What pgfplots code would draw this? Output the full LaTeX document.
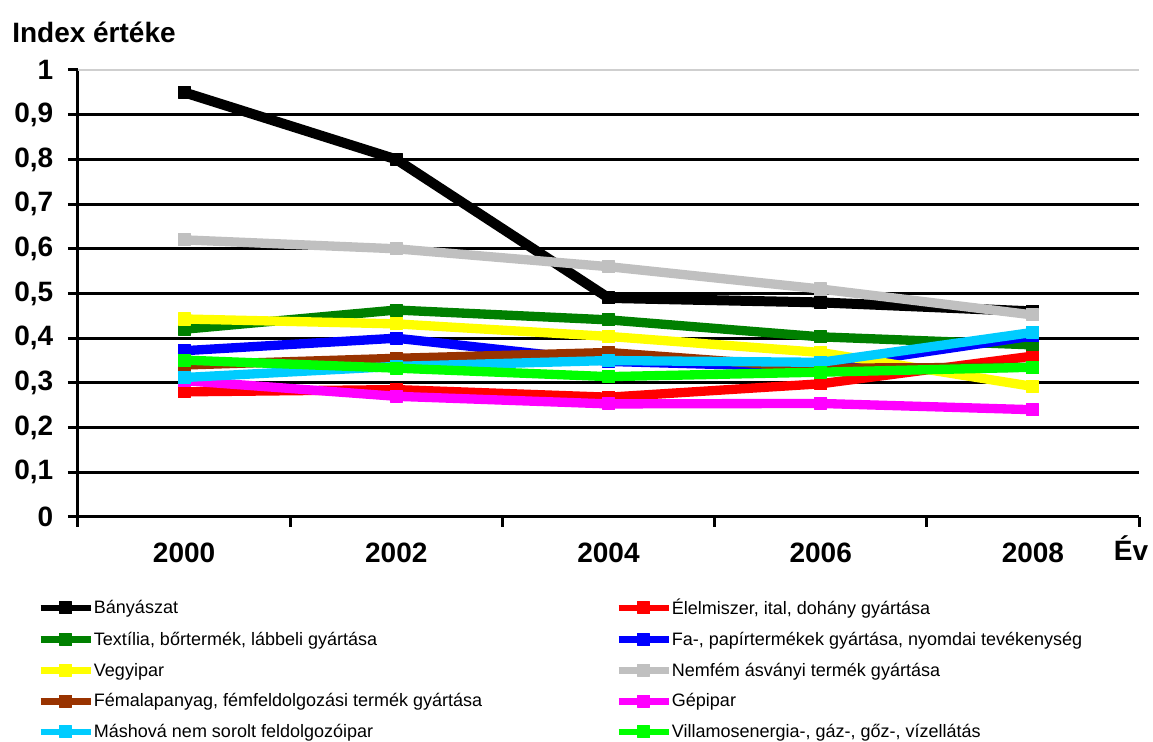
\documentclass[border=0pt]{standalone}
\usepackage{pgfplots}
\pgfplotsset{compat=1.18}
\usepackage{fontspec}
\setmainfont{Liberation Sans}
\definecolor{cgreen}{HTML}{008000}
\definecolor{cblue}{HTML}{0000FF}
\definecolor{cyellow}{HTML}{FFFF00}
\definecolor{cgray}{HTML}{C0C0C0}
\definecolor{cbrown}{HTML}{993300}
\definecolor{cmagenta}{HTML}{FF00FF}
\definecolor{ccyan}{HTML}{00CCFF}
\definecolor{clime}{HTML}{00FF00}
\definecolor{cred}{HTML}{FF0000}
\definecolor{topgrid}{HTML}{CFCFCF}
\newcommand{\lw}[1]{\makebox[391pt][l]{#1}}
\pgfplotsset{mylegimg/.style={legend image code/.code={\draw[##1, line width=5pt, mark repeat=2, mark phase=2] plot coordinates {(0pt,0pt) (18.75pt,0pt) (37.5pt,0pt)};}}}
\begin{document}
\begin{tikzpicture}
\useasboundingbox (0pt,0pt) rectangle (864.75pt,556.5pt);
\node[anchor=base west, inner sep=0pt, font=\fontsize{21}{24}\selectfont\bfseries] at (9pt,524.25pt) {Index értéke};
\node[anchor=base, inner sep=0pt, font=\fontsize{21}{24}\selectfont\bfseries] at (848.25pt,135.75pt) {Év};
\begin{axis}[
  at={(58.5pt,168.75pt)}, anchor=south west,
  scale only axis, width=795.75pt, height=335.25pt,
  xmin=-0.5, xmax=4.5, ymin=0, ymax=1,
  axis x line=bottom, axis y line=left,
  axis line style={-, line width=2.25pt, black},
  clip=false,
  xtick={-0.5,0.5,...,4.5}, xticklabels={},
  extra x ticks={0,1,2,3,4},
  extra x tick labels={2000,2002,2004,2006,2008},
  extra x tick style={major tick length=0pt},
  xticklabel style={yshift=-15.75pt},
  ytick={0,0.1,...,0.9},
  yticklabels={0,{0,1},{0,2},{0,3},{0,4},{0,5},{0,6},{0,7},{0,8},{0,9}},
  extra y ticks={1}, extra y tick labels={1},
  extra y tick style={major grid style={topgrid, line width=1.2pt}},
  yticklabel style={xshift=-7.5pt},
  ymajorgrids, major grid style={black, line width=2.25pt},
  tick align=outside, major tick length=7.5pt,
  tick style={black, line width=2.25pt},
  ticklabel style={font=\fontsize{21}{24}\selectfont\bfseries},
  legend columns=2,
  legend cell align=left,
  legend style={at={(axis description cs:-0.0386,-0.183)}, anchor=north west,
    draw=none, fill=none, inner sep=0pt,
    font=\fontsize{13.5}{16}\selectfont, row sep=11.6pt,
    nodes={inner sep=0pt},
    /tikz/every odd column/.append style={column sep=0pt}},
  mylegimg,
  every axis plot/.append style={line join=round, mark=square*, mark size=4.5pt, mark options={solid, line width=0.8pt}},
]
\addplot[black, line width=7.5pt] coordinates {(0,0.95) (1,0.80) (2,0.49) (3,0.48) (4,0.46)};
\addlegendentry{\lw{Bányászat}}
\addplot[cred, line width=7pt] coordinates {(0,0.28) (1,0.285) (2,0.268) (3,0.298) (4,0.36)};
\addlegendentry{Élelmiszer, ital, dohány gyártása}
\addplot[cgreen, line width=7pt] coordinates {(0,0.42) (1,0.463) (2,0.441) (3,0.403) (4,0.385)};
\addlegendentry{\lw{Textília, bőrtermék, lábbeli gyártása}}
\addplot[cblue, line width=7pt] coordinates {(0,0.372) (1,0.40) (2,0.348) (3,0.335) (4,0.405)};
\addlegendentry{Fa-, papírtermékek gyártása, nyomdai tevékenység}
\addplot[cyellow, line width=7pt] coordinates {(0,0.443) (1,0.432) (2,0.404) (3,0.368) (4,0.292)};
\addlegendentry{\lw{Vegyipar}}
\addplot[cgray, line width=7pt] coordinates {(0,0.62) (1,0.60) (2,0.56) (3,0.51) (4,0.452)};
\addlegendentry{Nemfém ásványi termék gyártása}
\addplot[cbrown, line width=7pt] coordinates {(0,0.34) (1,0.355) (2,0.368) (3,0.333) (4,0.335)};
\addlegendentry{\lw{Fémalapanyag, fémfeldolgozási termék gyártása}}
\addplot[cmagenta, line width=7pt] coordinates {(0,0.305) (1,0.27) (2,0.253) (3,0.254) (4,0.24)};
\addlegendentry{Gépipar}
\addplot[ccyan, line width=7pt] coordinates {(0,0.312) (1,0.337) (2,0.35) (3,0.346) (4,0.413)};
\addlegendentry{\lw{Máshová nem sorolt feldolgozóipar}}
\addplot[clime, line width=7pt] coordinates {(0,0.351) (1,0.333) (2,0.314) (3,0.324) (4,0.335)};
\addlegendentry{Villamosenergia-, gáz-, gőz-, vízellátás}
\end{axis}
\end{tikzpicture}
\end{document}
